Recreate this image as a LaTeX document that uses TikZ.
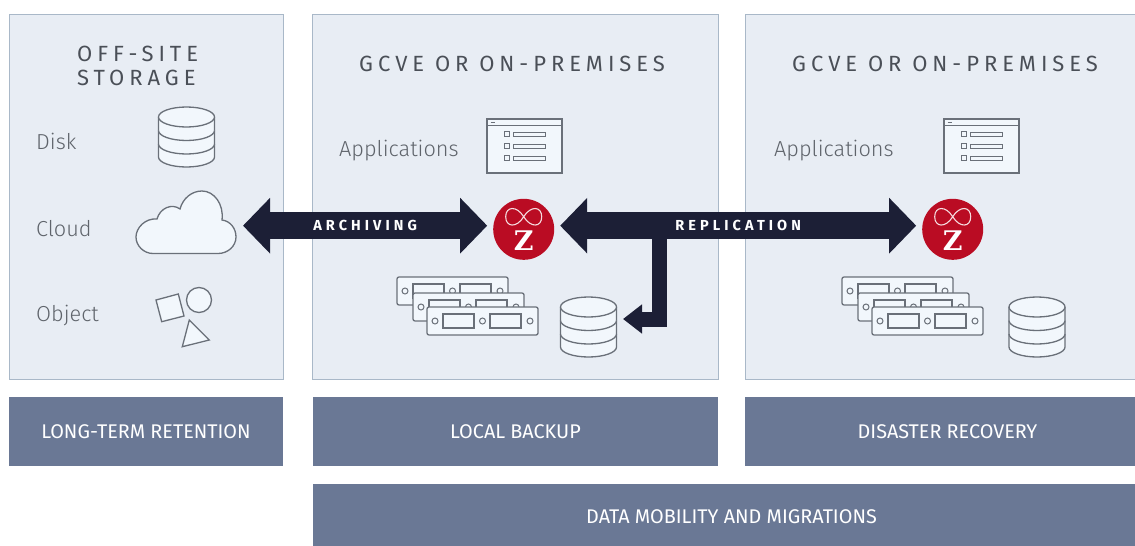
\documentclass[tikz,border=0pt]{standalone}
\usepackage{fontspec}
\setmainfont{Fira Sans}[UprightFont=* Light,BoldFont=* Bold]
\newfontfamily\regfont{Fira Sans}
\newfontfamily\zfont{DejaVu Serif}
\usetikzlibrary{arrows.meta}
\definecolor{panelfill}{HTML}{E8EDF4}
\definecolor{panelline}{HTML}{A9B8C8}
\definecolor{barfill}{HTML}{6A7895}
\definecolor{arrowdark}{HTML}{1C1F36}
\definecolor{zred}{HTML}{BA0C23}
\definecolor{iconfill}{HTML}{F2F7FC}
\definecolor{iconline}{HTML}{6A7079}
\definecolor{labelgrey}{HTML}{5F646B}
\definecolor{titlegrey}{HTML}{4A4F57}
\tikzset{
  panel/.style={shape=rectangle,draw=panelline,fill=panelfill,line width=0.9pt,anchor=north west,inner sep=0pt},
  bar/.style={shape=rectangle,fill=barfill,text=white,font=\fontsize{19.8}{22}\regfont,anchor=center,inner sep=0pt},
  title/.style={text=titlegrey,align=left,inner sep=0pt,font=\fontsize{22}{24}\regfont\addfontfeature{LetterSpace=22.5}},
  side/.style={text=labelgrey,anchor=base west,inner sep=0pt,font=\fontsize{21.7}{24}\selectfont},
  icon/.style={draw=iconline,fill=iconfill,line width=1.3pt},
  anchorbox/.style={shape=rectangle,inner sep=0pt,minimum width=57pt,minimum height=60pt},
  bigarrow/.style={arrowdark,line width=27pt,{Triangle[length=27pt,width=54pt]}-{Triangle[length=27pt,width=54pt]}},
  elbowarrow/.style={draw=arrowdark,line width=15pt,-{Triangle[length=19pt,width=28pt]}},
  arrowtext/.style={text=white,inner sep=0pt,font=\fontsize{14.5}{16}\selectfont\bfseries\addfontfeature{LetterSpace=28}},
  pics/dbicon/.style={code={
    \node[anchorbox,outer xsep=6pt] (-c) at (0,0) {};
    \draw[icon] (-28,-20) -- (-28,20) arc[start angle=180,end angle=360,x radius=28,y radius=-10] -- (28,-20);
    \draw[icon] (-28,7) arc[start angle=180,end angle=360,x radius=28,y radius=-10];
    \draw[icon] (-28,-6.5) arc[start angle=180,end angle=360,x radius=28,y radius=-10];
    \draw[icon] (0,-20) ellipse[x radius=28,y radius=10];
  }},
  pics/appicon/.style={code={
    \node[shape=rectangle,icon,minimum width=75pt,minimum height=54pt,inner sep=0pt] (-c) at (0,0) {};
    \draw[iconline,line width=0.9pt] (-37.5,-20.5) -- (37.5,-20.5);
    \draw[iconline,line width=1pt] (-34,-24) -- (-30,-24);
    \foreach \rowy in {-12,0,12}{
      \draw[icon,line width=1pt] (-20,\rowy-2.5) rectangle (-15,\rowy+2.5);
      \draw[icon,line width=1pt] (-11.5,\rowy-2) rectangle (20.5,\rowy+2);
    }
  }},
  pics/cardicon/.style={code={
    \draw[icon,rounded corners=2pt] (0,0) rectangle (111,28);
    \draw[icon] (16,7) rectangle (47,21);
    \draw[icon] (63,7) rectangle (94,21);
    \foreach \holex in {8,55.5,103}{
      \draw[icon,line width=1pt] (\holex,14) circle[radius=3];
    }
  }},
  pics/rackicon/.style={code={
    \pic at (0,0) {cardicon};
    \pic at (16,16) {cardicon};
    \pic at (30,30) {cardicon};
  }},
  pics/zlogo/.style={code={
    \node[shape=circle,fill=zred,minimum size=61pt,inner sep=0pt,outer sep=6pt] (-c) at (0,0) {};
    \draw[white!85!zred,line width=1.1pt] (0,-12.6) .. controls (-7,-24) and (-18,-23) .. (-18,-12.6) .. controls (-18,-2) and (-7,-1) .. (0,-12.6) .. controls (7,-24) and (18,-23) .. (18,-12.6) .. controls (18,-2) and (7,-1) .. (0,-12.6);
    \node[text=white,inner sep=0pt,font=\fontsize{27}{27}\zfont\bfseries] (-z) at (0,11) {Z};
  }},
}
\begin{document}
\begin{tikzpicture}[x=1pt,y=-1pt]
    \useasboundingbox (0,0) rectangle (1135,546);
    % panels
    \node[panel,minimum width=274.5pt,minimum height=365.5pt] (offsite) at (8.5,13.5) {};
    \node[panel,minimum width=406pt,minimum height=365.5pt] (local) at (312,13.5) {};
    \node[panel,minimum width=392pt,minimum height=365.5pt] (remote) at (745,13.5) {};
    % bottom bars
    \node[bar,minimum width=274pt,minimum height=69pt] (retention) at (146,431.5) {LONG-TERM RETENTION};
    \node[bar,minimum width=405pt,minimum height=69pt] (backup) at (515.5,431.5) {LOCAL BACKUP};
    \node[bar,minimum width=405pt,minimum height=69pt] (recovery) at (947.5,431.5) {DISASTER RECOVERY};
    \node[bar,minimum width=837pt,minimum height=66pt] (mobility) at (731.5,517) {DATA MOBILITY AND MIGRATIONS};
    % titles
    \node[title,anchor=north west] (offtitle) at (77,46) {OFF-SITE\\STORAGE};
    \node[title,anchor=base west] (localtitle) at (359,71) {GCVE OR ON-PREMISES};
    \node[title,anchor=base west] (remotetitle) at (792,71) {GCVE OR ON-PREMISES};
    % left column
    \node[side] (disklabel) at (36,149) {Disk};
    \node[side] (cloudlabel) at (36,236) {Cloud};
    \node[side] (objectlabel) at (36,321) {Object};
    \node[side] (applocal) at (339,156) {Applications};
    \node[side] (appremote) at (774,156) {Applications};
    % icons
    \pic (diskicon) at (186.5,137) {dbicon};
    \node[shape=rectangle,inner sep=0pt,minimum width=100pt,minimum height=60pt,outer xsep=7pt] (cloud) at (186,225.7) {};
    \draw[icon] (153,253.5) -- (218,253.5) .. controls (228,253.5) and (236,246) .. (236,237) .. controls (236,228) and (230,221) .. (222,220) .. controls (224,204) and (214,191) .. (202,191) .. controls (192,191) and (183,198) .. (180,209) .. controls (172,203) and (160,208) .. (157,219) .. controls (145,218) and (136,228) .. (136,237) .. controls (136,246) and (144,253.5) .. (153,253.5);
    \draw[icon] (156,300) -- (178.3,294) -- (184,316) -- (161.7,321.7) -- cycle;
    \draw[icon] (199,300) circle[radius=12.5];
    \draw[icon] (189.3,320) -- (209.3,340) -- (182.3,346.7) -- cycle;
    \pic (applocalicon) at (524.5,146) {appicon};
    \pic (appremoteicon) at (981.5,146) {appicon};
    \pic at (397,277) {rackicon};
    \pic at (842,277) {rackicon};
    \pic (dblocal) at (588.5,327) {dbicon};
    \pic (dbremote) at (1037,327) {dbicon};
    \pic (zl) at (523.7,229.3) {zlogo};
    \pic (zr) at (952.7,229.3) {zlogo};
    % arrows
    \coordinate (branch) at (659.5,225.7);
    \draw[elbowarrow] (branch) |- ([yshift=8pt]dblocal-c.east);
    \path[bigarrow] (cloud.east) edge node[arrowtext]{ARCHIVING} (cloud.east -| zl-c.west);
    \path[bigarrow] ([yshift=3.6pt]zl-c.east) edge node[arrowtext]{REPLICATION} ([yshift=3.6pt]zr-c.west);
\end{tikzpicture}
\end{document}
